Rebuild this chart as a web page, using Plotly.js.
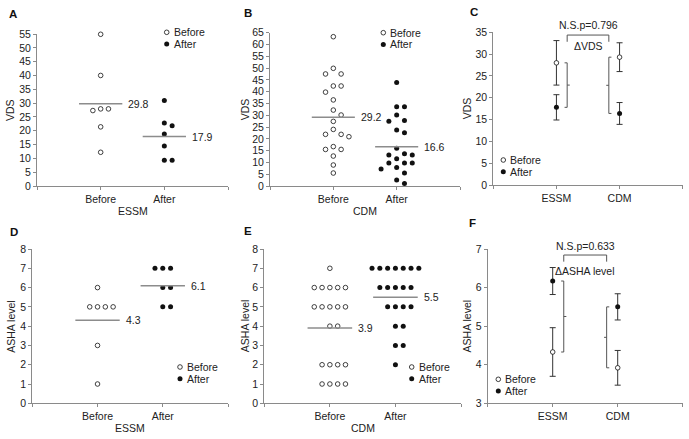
<!DOCTYPE html>
<html><head><meta charset="utf-8">
<script src="https://cdn.plot.ly/plotly-3.0.1.min.js"></script>
<style>html,body{margin:0;padding:0;background:#fff}#chart{width:689px;height:439px}</style>
</head><body><div id="chart"></div>
<script>
// ---------------- DATA ----------------
const timeLabels = ['Before', 'After'];
const methodLabels = ['ESSM', 'CDM'];
const panelLetters = ['A', 'B', 'C', 'D', 'E', 'F'];
const vdsTitle = 'VDS';
const ashaTitle = 'ASHA level';

// A: VDS, ESSM group (individual patients)
const vdsEssmBefore = [54.9, 40.0, 27.9, 27.9, 27.3, 21.4, 12.2];
const vdsEssmAfter  = [30.9, 22.8, 21.8, 18.8, 14.5, 9.3, 9.3];
const vdsEssmMeans  = [29.8, 17.9];

// B: VDS, CDM group
const vdsCdmBefore = [63.3, 49.9, 47.5, 47.5, 42.4, 42.4, 39.8, 36.5, 32.2, 30.1, 27.4,
                      24.0, 21.9, 21.9, 20.9, 16.7, 15.5, 15.5, 12.7, 8.9, 5.5];
const vdsCdmAfter  = [43.9, 33.6, 33.6, 30.1, 27.8, 27.5, 23.7, 22.6, 16.0, 13.7, 13.1,
                      13.1, 11.6, 9.7, 9.7, 9.7, 7.8, 7.2, 5.5, 2.5, 1.1];
const vdsCdmMeans  = [29.2, 16.6];

// C: VDS mean ± error by method
const vdsSumBefore    = [28.0, 29.3];
const vdsSumBeforeErr = [5.1, 3.3];
const vdsSumAfter     = [17.8, 16.4];
const vdsSumAfterErr  = [2.9, 2.5];
const vdsDeltaLabel   = '\u0394VDS';
const vdsPLabel       = 'N.S.p=0.796';

// D: ASHA level, ESSM group
const ashaEssmBefore = [6, 5, 5, 5, 5, 3, 1];
const ashaEssmAfter  = [7, 7, 7, 6, 6, 5, 5];
const ashaEssmMeans  = [4.3, 6.1];

// E: ASHA level, CDM group
const ashaCdmBefore = [7, 6, 6, 6, 6, 6, 5, 5, 5, 5, 5, 4, 4, 2, 2, 2, 2, 1, 1, 1, 1];
const ashaCdmAfter  = [7, 7, 7, 7, 7, 7, 7, 6, 6, 6, 6, 6, 5, 5, 5, 5, 4, 4, 3, 3, 2];
const ashaCdmMeans  = [3.9, 5.5];

// F: ASHA level mean ± error by method
const ashaSumBefore    = [4.33, 3.92];
const ashaSumBeforeErr = [0.63, 0.45];
const ashaSumAfter     = [6.17, 5.50];
const ashaSumAfterErr  = [0.35, 0.34];
const ashaDeltaLabel   = '\u0394ASHA level';
const ashaPLabel       = 'N.S.p=0.633';

// ---------------- LAYOUT CONSTANTS ----------------
const W = 689, H = 439;
const FONT = 'Liberation Sans, Arial, Helvetica, sans-serif';
const AX = '#8a8a8a', TXT = '#222', INK = '#111';
const box = {
  A: {x: [37, 228],     y: [34, 186],     yr: [0, 55], dt: 5},
  B: {x: [270, 460],    y: [32.7, 186],   yr: [0, 65], dt: 5},
  C: {x: [493.3, 682.7],y: [32.3, 185],   yr: [0, 35], dt: 5},
  D: {x: [32.3, 228],   y: [249, 403.3],  yr: [0, 8],  dt: 1},
  E: {x: [264.3, 461],  y: [249, 403.3],  yr: [0, 8],  dt: 1},
  F: {x: [487.7, 682.7],y: [249, 403.3],  yr: [3, 7],  dt: 1}
};
const keys = ['A', 'B', 'C', 'D', 'E', 'F'];
const markBefore = {symbol: 'circle', size: 4.6, color: '#fff', line: {color: INK, width: 0.8}};
const markAfter  = {symbol: 'circle', size: 5, color: INK, line: {width: 0}};

const layout = {
  width: W, height: H, margin: {l: 0, r: 0, t: 0, b: 0},
  paper_bgcolor: '#fff', plot_bgcolor: 'rgba(0,0,0,0)',
  showlegend: false,
  font: {family: FONT, size: 10.5, color: TXT},
  annotations: [], shapes: []
};
const traces = [];

keys.forEach((k, i) => {
  const b = box[k], n = i + 1;
  const xa = 'xaxis' + (n === 1 ? '' : n), ya = 'yaxis' + (n === 1 ? '' : n);
  const ids = {x: 'x' + (n === 1 ? '' : n), y: 'y' + (n === 1 ? '' : n)};
  b.ids = ids;
  const cats = (k === 'C' || k === 'F') ? methodLabels : timeLabels;
  layout[xa] = {
    domain: [b.x[0] / W, b.x[1] / W], anchor: ids.y, range: [-1, 2],
    tickmode: 'array', tickvals: [-1, 0, 1, 2], ticktext: ['', cats[0], cats[1], ''],
    ticks: 'outside', ticklen: 3, tickcolor: AX, tickwidth: 1,
    showline: true, linecolor: AX, linewidth: 1, showgrid: false, zeroline: false,
    tickfont: {size: 10.5, color: TXT}, fixedrange: true
  };
  layout[ya] = {
    domain: [1 - b.y[1] / H, 1 - b.y[0] / H], anchor: ids.x, range: b.yr,
    tick0: b.yr[0], dtick: b.dt,
    ticks: 'outside', ticklen: 3, tickcolor: AX, tickwidth: 1,
    showline: true, linecolor: AX, linewidth: 1, showgrid: false, zeroline: false,
    tickfont: {size: 10.5, color: TXT}, fixedrange: true
  };
  b.pxPerY = (b.y[1] - b.y[0]) / (b.yr[1] - b.yr[0]);
  b.unitPerPx = 3 / (b.x[1] - b.x[0]);
});

// beeswarm offsets (computed from values)
function swarm(values, pxPerY, gapPx) {
  const order = values.map((v, i) => i).sort((a, c) => values[c] - values[a]);
  const slots = new Array(values.length).fill(0);
  const placed = [];
  const cand = [0, 1, -1, 2, -2, 3, -3, 4, -4, 5, -5];
  order.forEach(i => {
    for (const s of cand) {
      if (!placed.some(p => p.s === s && Math.abs(p.v - values[i]) * pxPerY < gapPx)) {
        slots[i] = s; placed.push({s: s, v: values[i]}); break;
      }
    }
  });
  return slots;
}

function dotPanel(k, before, after, means, yTitle, xTitle) {
  const b = box[k];
  const step = 7.8 * b.unitPerPx;
  [[before, markBefore, 0, timeLabels[0]], [after, markAfter, 1, timeLabels[1]]].forEach(([vals, mk, c, name]) => {
    const sl = swarm(vals, b.pxPerY, 8);
    traces.push({
      type: 'scatter', mode: 'markers', name: name, xaxis: b.ids.x, yaxis: b.ids.y,
      x: vals.map((v, j) => c + sl[j] * step), y: vals, marker: mk, cliponaxis: false, hoverinfo: 'y'
    });
  });
  // mean lines
  const mx = [], my = [];
  means.forEach((m, c) => { mx.push(c - 0.34, c + 0.34, null); my.push(m, m, null); });
  traces.push({type: 'scatter', mode: 'lines', xaxis: b.ids.x, yaxis: b.ids.y, x: mx, y: my,
    line: {color: '#8c8c8c', width: 1.5}, hoverinfo: 'skip', cliponaxis: false});
  means.forEach((m, c) => layout.annotations.push({
    xref: b.ids.x, yref: b.ids.y, x: c + 0.40, y: m, xanchor: 'left', yanchor: 'middle',
    text: m.toFixed(1), showarrow: false, font: {size: 10.5, color: TXT}
  }));
  // x title
  layout.annotations.push({xref: b.ids.x, yref: 'paper', x: 0.5, y: 1 - (b.y[1] + 24.5) / H,
    xanchor: 'center', yanchor: 'middle', text: xTitle, showarrow: false, font: {size: 10.5, color: TXT}});
}

function summaryPanel(k, bef, befErr, aft, aftErr, deltaLabel, pLabel, bracketTop, bracketLeg, deltaY, pY) {
  const b = box[k];
  traces.push({type: 'scatter', mode: 'markers', name: timeLabels[0], xaxis: b.ids.x, yaxis: b.ids.y,
    x: [0, 1], y: bef, marker: markBefore, cliponaxis: false,
    error_y: {type: 'data', array: befErr, visible: true, color: '#333', thickness: 1, width: 3}});
  traces.push({type: 'scatter', mode: 'markers', name: timeLabels[1], xaxis: b.ids.x, yaxis: b.ids.y,
    x: [0, 1], y: aft, marker: markAfter, cliponaxis: false,
    error_y: {type: 'data', array: aftErr, visible: true, color: '#333', thickness: 1, width: 3}});
  // change brackets between before & after means
  const off = 0.17, cap = 2.6 * b.unitPerPx;
  const dx = [], dy = [];
  [[0, off, -1], [1, 1 - off, 1]].forEach(([c, xpos, dir]) => {
    const hi = Math.max(bef[c], aft[c]), lo = Math.min(bef[c], aft[c]), mid = (hi + lo) / 2;
    dx.push(xpos + dir * cap, xpos, xpos, xpos + dir * cap, null, xpos, xpos - dir * cap, null);
    dy.push(hi, hi, lo, lo, null, mid, mid, null);
  });
  traces.push({type: 'scatter', mode: 'lines', xaxis: b.ids.x, yaxis: b.ids.y, x: dx, y: dy,
    line: {color: '#555', width: 1}, hoverinfo: 'skip', cliponaxis: false});
  // comparison bracket
  const yd = b.ids.y + ' domain';
  const bx0 = off, bx1 = 1 - off;
  layout.shapes.push(
    {type: 'line', xref: b.ids.x, yref: yd, x0: bx0, x1: bx0, y0: bracketLeg, y1: bracketTop, line: {color: '#555', width: 1}},
    {type: 'line', xref: b.ids.x, yref: yd, x0: bx0, x1: bx1, y0: bracketTop, y1: bracketTop, line: {color: '#555', width: 1}},
    {type: 'line', xref: b.ids.x, yref: yd, x0: bx1, x1: bx1, y0: bracketTop, y1: bracketLeg, line: {color: '#555', width: 1}}
  );
  layout.annotations.push(
    {xref: b.ids.x, yref: 'paper', x: 0.5, y: 1 - pY / H, text: pLabel, showarrow: false,
      xanchor: 'center', yanchor: 'middle', font: {size: 10.5, color: TXT}},
    {xref: b.ids.x, yref: 'paper', x: 0.5, y: 1 - deltaY / H, text: deltaLabel, showarrow: false,
      xanchor: 'center', yanchor: 'middle', font: {size: 10.5, color: TXT}}
  );
}

dotPanel('A', vdsEssmBefore, vdsEssmAfter, vdsEssmMeans, vdsTitle, methodLabels[0]);
dotPanel('B', vdsCdmBefore, vdsCdmAfter, vdsCdmMeans, vdsTitle, methodLabels[1]);
summaryPanel('C', vdsSumBefore, vdsSumBeforeErr, vdsSumAfter, vdsSumAfterErr, vdsDeltaLabel, vdsPLabel, 0.982, 0.938, 46, 25);
dotPanel('D', ashaEssmBefore, ashaEssmAfter, ashaEssmMeans, ashaTitle, methodLabels[0]);
dotPanel('E', ashaCdmBefore, ashaCdmAfter, ashaCdmMeans, ashaTitle, methodLabels[1]);
summaryPanel('F', ashaSumBefore, ashaSumBeforeErr, ashaSumAfter, ashaSumAfterErr, ashaDeltaLabel, ashaPLabel, 0.961, 0.918, 270.5, 245.5);

// y-axis titles
const yTitleX = {A: 10, B: 245, C: 466.7, D: 10.7, E: 245, F: 467.3};
keys.forEach(k => {
  const b = box[k];
  layout.annotations.push({xref: 'paper', yref: b.ids.y + ' domain', x: yTitleX[k] / W, y: 0.5,
    xanchor: 'center', yanchor: 'middle', textangle: -90, showarrow: false,
    text: (k === 'A' || k === 'B' || k === 'C') ? vdsTitle : ashaTitle, font: {size: 10.5, color: TXT}});
});

// panel letters
const letterPos = {A: [7, 13.5], B: [241.5, 13], C: [467.5, 11.5], D: [8, 231.5], E: [241.5, 231], F: [467, 222.5]};
keys.forEach((k, i) => {
  const p = letterPos[k];
  layout.annotations.push({xref: 'paper', yref: 'paper', x: p[0] / W, y: 1 - p[1] / H,
    xanchor: 'left', yanchor: 'middle', text: '<b>' + panelLetters[i] + '</b>', showarrow: false,
    font: {size: 11.5, color: '#111'}});
});

// per-panel legends (marker + label)
const legendPos = {A: [166.7, 32.3], B: [383.3, 32.7], C: [503.3, 160], D: [180, 367], E: [411.7, 367], F: [498.3, 379.3]};
keys.forEach(k => {
  const [cx, cy] = legendPos[k];
  [[markBefore, timeLabels[0], 0], [markAfter, timeLabels[1], 11.7]].forEach(([mk, label, dyy]) => {
    const yy = 1 - (cy + dyy) / H;
    const r = mk.size / 2;
    layout.shapes.push({type: 'circle', xref: 'paper', yref: 'paper', xsizemode: 'pixel', ysizemode: 'pixel',
      xanchor: cx / W, yanchor: yy, x0: -r, x1: r, y0: -r, y1: r,
      fillcolor: mk.color, line: {color: INK, width: mk.line.width || 0}});
    layout.annotations.push({xref: 'paper', yref: 'paper', x: (cx + 5) / W, y: yy, xanchor: 'left', yanchor: 'middle',
      text: label, showarrow: false, font: {size: 10.5, color: TXT}});
  });
});

Plotly.newPlot('chart', traces, layout, {staticPlot: true, displayModeBar: false});
</script>
</body></html>
